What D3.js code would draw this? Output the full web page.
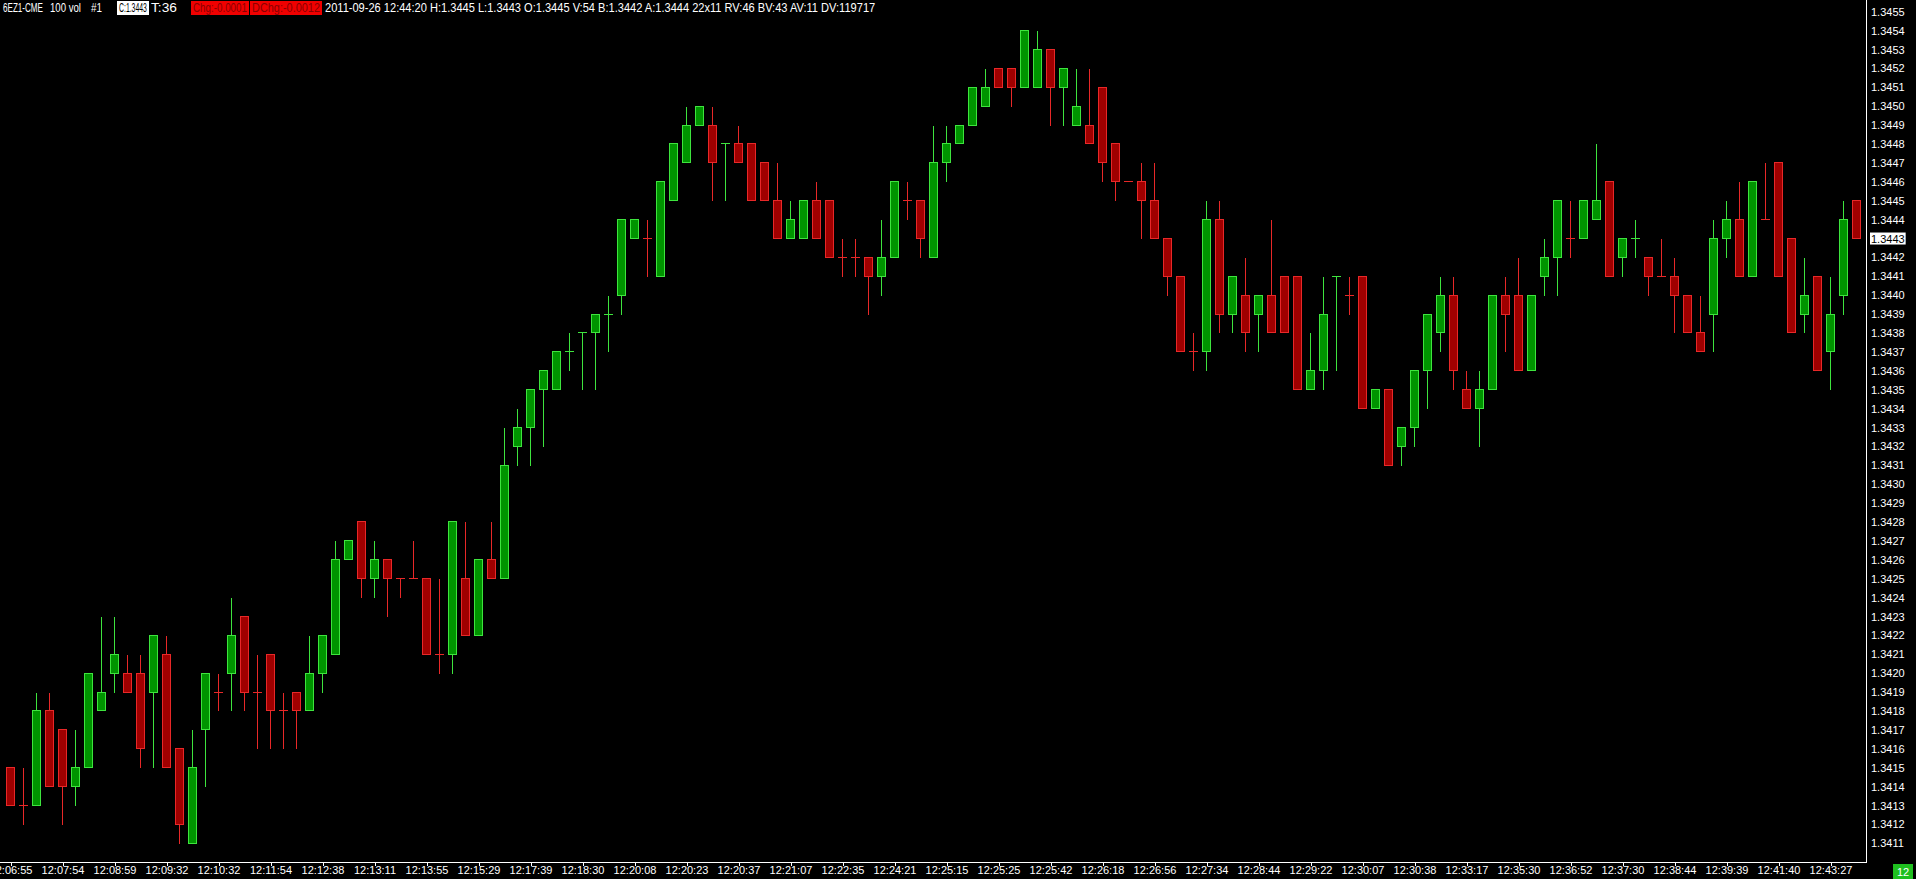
<!DOCTYPE html>
<html>
<head>
<meta charset="utf-8">
<script src="https://cdn.jsdelivr.net/npm/d3@7"></script>
<style>
  html, body { margin: 0; padding: 0; background: #000; overflow: hidden; }
  svg { display: block; }
  text { font-family: "Liberation Sans", Arial, sans-serif; }
</style>
</head>
<body>
<script>
// ---------------- DATA ----------------
const openP = [1.3415,1.3413,1.3413,1.3418,1.3417,1.3414,1.3415,1.3418,1.3420,1.3420,
  1.3420,1.3419,1.3421,1.3416,1.3411,1.3417,1.3419,1.3420,1.3423,1.3419,
  1.3421,1.3418,1.3419,1.3418,1.3420,1.3421,1.3426,1.3428,1.3425,1.3426,
  1.3425,1.3425,1.3425,1.3421,1.3421,1.3425,1.3422,1.3426,1.3425,1.3432,
  1.3433,1.3435,1.3435,1.3437,1.3438,1.3438,1.3439,1.3440,1.3443,1.3443,
  1.3441,1.3445,1.3447,1.3449,1.3449,1.3448,1.3448,1.3448,1.3447,1.3445,
  1.3443,1.3443,1.3445,1.3445,1.3442,1.3442,1.3442,1.3441,1.3442,1.3445,
  1.3445,1.3442,1.3447,1.3448,1.3449,1.3450,1.3452,1.3452,1.3451,1.3451,
  1.3453,1.3451,1.3449,1.3449,1.3451,1.3448,1.3446,1.3446,1.3445,1.3443,
  1.3441,1.3437,1.3437,1.3444,1.3439,1.3440,1.3439,1.3440,1.3441,1.3441,
  1.3435,1.3436,1.3441,1.3440,1.3441,1.3434,1.3435,1.3432,1.3433,1.3436,
  1.3438,1.3440,1.3435,1.3434,1.3435,1.3440,1.3440,1.3436,1.3441,1.3442,
  1.3443,1.3443,1.3444,1.3446,1.3442,1.3443,1.3442,1.3441,1.3441,1.3440,
  1.3438,1.3439,1.3443,1.3444,1.3441,1.3444,1.3447,1.3443,1.3439,1.3441,
  1.3437,1.3440,1.3445];
const highP = [1.3415,1.3415,1.3419,1.3419,1.3417,1.3417,1.3420,1.3423,1.3423,1.3421,
  1.3421,1.3422,1.3422,1.3416,1.3417,1.3420,1.3420,1.3424,1.3423,1.3421,
  1.3421,1.3419,1.3419,1.3422,1.3422,1.3427,1.3427,1.3428,1.3427,1.3426,
  1.3425,1.3427,1.3425,1.3425,1.3428,1.3428,1.3426,1.3428,1.3433,1.3434,
  1.3435,1.3436,1.3437,1.3438,1.3438,1.3439,1.3440,1.3444,1.3444,1.3444,
  1.3446,1.3448,1.3450,1.3450,1.3450,1.3448,1.3449,1.3448,1.3447,1.3447,
  1.3445,1.3445,1.3446,1.3445,1.3443,1.3443,1.3442,1.3444,1.3446,1.3446,
  1.3445,1.3449,1.3449,1.3449,1.3451,1.3452,1.3452,1.3452,1.3454,1.3454,
  1.3453,1.3452,1.3452,1.3452,1.3451,1.3448,1.3446,1.3447,1.3447,1.3443,
  1.3441,1.3438,1.3445,1.3445,1.3441,1.3442,1.3440,1.3444,1.3441,1.3441,
  1.3438,1.3441,1.3441,1.3441,1.3441,1.3435,1.3435,1.3433,1.3436,1.3439,
  1.3441,1.3441,1.3436,1.3436,1.3440,1.3441,1.3442,1.3440,1.3443,1.3445,
  1.3445,1.3445,1.3448,1.3446,1.3443,1.3444,1.3442,1.3443,1.3442,1.3440,
  1.3440,1.3444,1.3445,1.3446,1.3446,1.3447,1.3447,1.3443,1.3442,1.3441,
  1.3441,1.3445,1.3445];
const lowP = [1.3413,1.3412,1.3413,1.3414,1.3412,1.3413,1.3415,1.3418,1.3419,1.3419,
  1.3415,1.3415,1.3415,1.3411,1.3411,1.3414,1.3418,1.3418,1.3418,1.3416,
  1.3416,1.3416,1.3416,1.3418,1.3419,1.3421,1.3426,1.3424,1.3424,1.3423,
  1.3424,1.3425,1.3421,1.3420,1.3420,1.3422,1.3422,1.3425,1.3425,1.3431,
  1.3431,1.3432,1.3435,1.3436,1.3435,1.3435,1.3437,1.3439,1.3443,1.3441,
  1.3441,1.3445,1.3447,1.3449,1.3445,1.3445,1.3447,1.3445,1.3445,1.3443,
  1.3443,1.3443,1.3443,1.3442,1.3441,1.3441,1.3439,1.3440,1.3442,1.3444,
  1.3442,1.3442,1.3446,1.3448,1.3449,1.3450,1.3451,1.3450,1.3451,1.3451,
  1.3449,1.3449,1.3449,1.3448,1.3446,1.3445,1.3446,1.3443,1.3443,1.3440,
  1.3437,1.3436,1.3436,1.3438,1.3438,1.3437,1.3437,1.3438,1.3438,1.3435,
  1.3435,1.3435,1.3436,1.3439,1.3434,1.3434,1.3431,1.3431,1.3432,1.3434,
  1.3437,1.3435,1.3434,1.3432,1.3435,1.3437,1.3436,1.3436,1.3440,1.3440,
  1.3442,1.3443,1.3444,1.3441,1.3441,1.3442,1.3440,1.3441,1.3438,1.3438,
  1.3437,1.3437,1.3442,1.3441,1.3441,1.3444,1.3441,1.3438,1.3438,1.3436,
  1.3435,1.3439,1.3443];
const closeP = [1.3413,1.3413,1.3418,1.3414,1.3414,1.3415,1.3420,1.3419,1.3421,1.3419,
  1.3416,1.3422,1.3415,1.3412,1.3415,1.3420,1.3419,1.3422,1.3419,1.3419,
  1.3418,1.3418,1.3418,1.3420,1.3422,1.3426,1.3427,1.3425,1.3426,1.3425,
  1.3425,1.3425,1.3421,1.3421,1.3428,1.3422,1.3426,1.3425,1.3431,1.3433,
  1.3435,1.3436,1.3437,1.3437,1.3438,1.3439,1.3439,1.3444,1.3444,1.3443,
  1.3446,1.3448,1.3449,1.3450,1.3447,1.3448,1.3447,1.3445,1.3445,1.3443,
  1.3444,1.3445,1.3443,1.3442,1.3442,1.3442,1.3441,1.3442,1.3446,1.3445,
  1.3443,1.3447,1.3448,1.3449,1.3451,1.3451,1.3451,1.3451,1.3454,1.3453,
  1.3451,1.3452,1.3450,1.3448,1.3447,1.3446,1.3446,1.3445,1.3443,1.3441,
  1.3437,1.3437,1.3444,1.3439,1.3441,1.3438,1.3440,1.3438,1.3438,1.3435,
  1.3436,1.3439,1.3441,1.3440,1.3434,1.3435,1.3431,1.3433,1.3436,1.3439,
  1.3440,1.3436,1.3434,1.3435,1.3440,1.3439,1.3436,1.3440,1.3442,1.3445,
  1.3443,1.3445,1.3445,1.3441,1.3443,1.3443,1.3441,1.3441,1.3440,1.3438,
  1.3437,1.3443,1.3444,1.3441,1.3446,1.3444,1.3441,1.3438,1.3440,1.3436,
  1.3439,1.3444,1.3443];
// doji bars (open == close) that were printed as up bars
const upDojiIndex = [43, 44, 46, 55, 102, 125];

// time labels, one every 4 bars starting with the first bar
const timeLabels = ["12:06:55","12:07:54","12:08:59","12:09:32","12:10:32","12:11:54",
  "12:12:38","12:13:11","12:13:55","12:15:29","12:17:39","12:18:30","12:20:08","12:20:23",
  "12:20:37","12:21:07","12:22:35","12:24:21","12:25:15","12:25:25","12:25:42","12:26:18",
  "12:26:56","12:27:34","12:28:44","12:29:22","12:30:07","12:30:38","12:33:17","12:35:30",
  "12:36:52","12:37:30","12:38:44","12:39:39","12:41:40","12:43:27"];
const timeLabelBars = [0,4,8,12,16,20,24,28,32,36,40,44,48,52,56,60,64,68,72,76,80,84,88,92,
  96,100,104,108,112,116,120,124,128,132,136,140];

const priceLabels = ["1.3455","1.3454","1.3453","1.3452","1.3451","1.3450","1.3449","1.3448",
  "1.3447","1.3446","1.3445","1.3444","1.3443","1.3442","1.3441","1.3440","1.3439","1.3438",
  "1.3437","1.3436","1.3435","1.3434","1.3433","1.3432","1.3431","1.3430","1.3429","1.3428",
  "1.3427","1.3426","1.3425","1.3424","1.3423","1.3422","1.3421","1.3420","1.3419","1.3418",
  "1.3417","1.3416","1.3415","1.3414","1.3413","1.3412","1.3411"];
const lastPrice = "1.3443";

const headerTexts = ["6EZ1-CME", "100 vol", "#1", "C:1.3443", "T:36", "Chg:-0.0001", "DChg:-0.0012",
  "2011-09-26 12:44:20 H:1.3445 L:1.3443 O:1.3445 V:54 B:1.3442 A:1.3444 22x11 RV:46 BV:43 AV:11 DV:119717"];
const headerStyles = ["plain", "plain", "plain", "white", "plain", "red", "red", "plain"];
const barCounter = "12";

// ---------------- LAYOUT ----------------
const W = 1916, H = 879;
const axisX = 1866.5, axisY = 862.5;
const n = openP.length;

const svg = d3.select("body").append("svg").attr("width", W).attr("height", H)
  .style("background", "#000");

const x = d3.scaleLinear().domain([0, n - 1]).range([10.5, 1856.5]);
const y = d3.scaleLinear().domain([1.3411, 1.3455]).range([843.3, 11.7]);
const snap = v => Math.round(v - 0.5) + 0.5;

const upStroke = "#3ee43e", upFill = "#009400";
const dnStroke = "#e82828", dnFill = "#a00000";

const bars = d3.range(n).map(i => {
  const o = openP[i], c = closeP[i];
  const up = c > o || (c === o && upDojiIndex.includes(i));
  return {i, o, h: highP[i], l: lowP[i], c, up};
});

const g = svg.append("g").attr("shape-rendering", "crispEdges");

// wicks
g.selectAll("line.wick").data(bars).join("line").attr("class", "wick")
  .attr("x1", d => x(d.i)).attr("x2", d => x(d.i))
  .attr("y1", d => snap(y(d.h))).attr("y2", d => snap(y(d.l)))
  .attr("stroke", d => d.up ? upStroke : dnStroke).attr("stroke-width", 1);

// bodies
g.selectAll("rect.body").data(bars.filter(d => d.o !== d.c)).join("rect").attr("class", "body")
  .attr("x", d => x(d.i) - 4)
  .attr("y", d => snap(y(Math.max(d.o, d.c))))
  .attr("width", 8)
  .attr("height", d => snap(y(Math.min(d.o, d.c))) - snap(y(Math.max(d.o, d.c))))
  .attr("fill", d => d.up ? upFill : dnFill)
  .attr("stroke", d => d.up ? upStroke : dnStroke).attr("stroke-width", 1);

// doji ticks
g.selectAll("line.doji").data(bars.filter(d => d.o === d.c)).join("line").attr("class", "doji")
  .attr("x1", d => x(d.i) - 4.5).attr("x2", d => x(d.i) + 4.5)
  .attr("y1", d => snap(y(d.o))).attr("y2", d => snap(y(d.o)))
  .attr("stroke", d => d.up ? upStroke : dnStroke).attr("stroke-width", 1);

// frame lines
svg.append("line").attr("x1", axisX).attr("x2", axisX).attr("y1", 0).attr("y2", axisY)
  .attr("stroke", "#fff").attr("shape-rendering", "crispEdges");
svg.append("line").attr("x1", 0).attr("x2", axisX).attr("y1", axisY).attr("y2", axisY)
  .attr("stroke", "#fff").attr("shape-rendering", "crispEdges");

// bottom time axis
const xAxis = d3.axisBottom(x).tickValues(timeLabelBars)
  .tickFormat((d, i) => timeLabels[i]).tickSize(3).tickPadding(1);
const gx = svg.append("g").attr("transform", `translate(0,${axisY})`).call(xAxis);
gx.select(".domain").remove();
gx.selectAll(".tick line").attr("stroke", "#fff").attr("shape-rendering", "crispEdges");
gx.selectAll(".tick text").attr("fill", "#fff").style("font-size", "11px")
  .style("font-family", "'Liberation Sans', Arial, sans-serif");

// right price axis
const priceVals = priceLabels.map(Number);
const yAxis = d3.axisRight(y).tickValues(priceVals)
  .tickFormat((d, i) => priceLabels[i]).tickSize(0).tickPadding(4.5);
const gy = svg.append("g").attr("transform", `translate(${axisX},0)`).call(yAxis);
gy.select(".domain").remove();
gy.selectAll(".tick text").attr("fill", "#fff").style("font-size", "11px")
  .style("font-family", "'Liberation Sans', Arial, sans-serif");

// last price highlight
gy.selectAll(".tick").filter((d, i) => priceLabels[i] === lastPrice).each(function() {
  const t = d3.select(this);
  const txt = t.select("text");
  const bb = txt.node().getBBox();
  t.insert("rect", "text").attr("x", bb.x - 1).attr("y", bb.y)
    .attr("width", bb.width + 2).attr("height", bb.height).attr("fill", "#fff");
  txt.attr("fill", "#000");
});

// bar counter box
const bc = svg.append("g").attr("transform", "translate(1893,864)");
bc.append("rect").attr("width", 20).attr("height", 15).attr("fill", "#1fbf1f");
bc.append("text").attr("x", 10).attr("y", 8).attr("text-anchor", "middle")
  .attr("dominant-baseline", "central").attr("fill", "#fff").style("font-size", "11px")
  .text(barCounter);

const hdr = svg.append("g");
const hdrX = [3, 50, 91, 119, 151, 193, 252, 325];
const hdrW = [40, 31, 11, 28, 26, 54, 68, 551];
headerTexts.forEach((txt, k) => {
  const style = headerStyles[k];
  if (style !== "plain") {
    hdr.append("rect").attr("x", hdrX[k] - 2).attr("y", 1).attr("width", hdrW[k] + 4)
      .attr("height", 14).attr("fill", style === "white" ? "#fff" : "#f00000");
  }
  const grp = hdr.append("g");
  const t = grp.append("text").attr("x", 0).attr("y", 8).attr("dominant-baseline", "central")
    .style("font-size", "12px").text(txt)
    .attr("fill", style === "white" ? "#000" : style === "red" ? "#8a0000" : "#fff");
  const nat = t.node().getComputedTextLength();
  grp.attr("transform", `translate(${hdrX[k]},0) scale(${hdrW[k] / nat},1)`);
});
</script>
</body>
</html>
